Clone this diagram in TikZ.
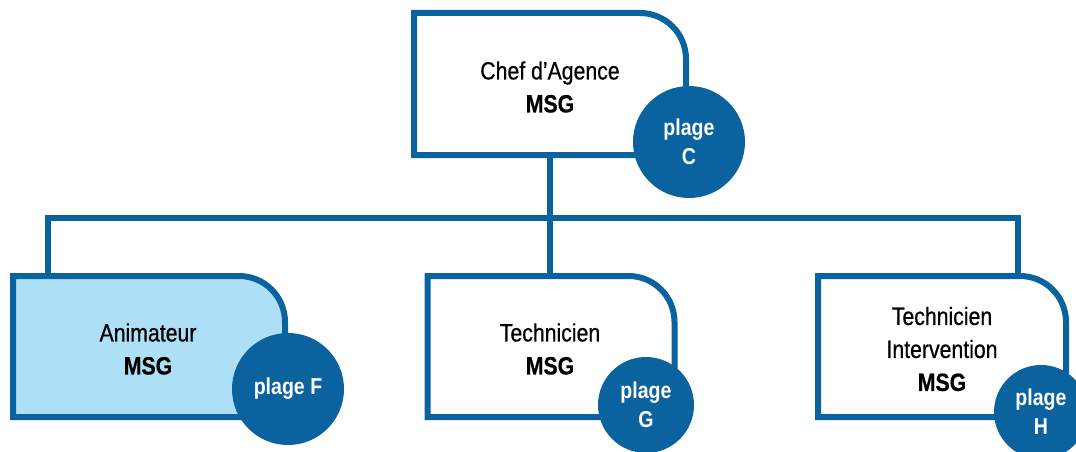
\documentclass[tikz,border=0pt]{standalone}
\usepackage{fontspec}
\setmainfont[FakeStretch=0.85]{Liberation Sans}
\newfontfamily\heavyfont[FakeStretch=0.85,FakeBold=0.6]{Liberation Sans}
\definecolor{msgblue}{RGB}{10,98,158}
\definecolor{msglight}{RGB}{173,223,247}
\tikzset{
  boxarea/.style={inner sep=0pt, outer sep=0pt},
  boxline/.style={draw=msgblue, line width=6pt, line join=miter},
  conn/.style={draw=msgblue, line width=6pt, line join=miter},
  label/.style={align=center, text=black, font=\heavyfont\fontsize{25}{33}\selectfont},
  plagecirc/.style={circle, fill=msgblue, text=white, inner sep=0pt, align=center,
    font=\bfseries\fontsize{23}{29}\selectfont},
}
\newcommand\orgbox[2]{%
  \path[boxline, fill=#2] (#1.north west) -- ([xshift=-46pt]#1.north east)
    arc[start angle=90, end angle=0, radius=46pt] -- (#1.south east) -- (#1.south west) -- cycle;}
\begin{document}
\begin{tikzpicture}[x=1pt, y=-1pt]
\useasboundingbox (0,0) rectangle (1076,452);
% box areas
\node[boxarea, minimum width=272pt, minimum height=142pt] (chef) at (550,84) {};
\node[boxarea, minimum width=272pt, minimum height=141pt] (anim) at (149,346.5) {};
\node[boxarea, minimum width=247pt, minimum height=141pt] (tech) at (551,346.5) {};
\node[boxarea, minimum width=248pt, minimum height=141pt] (inter) at (942,346.5) {};
\coordinate (busL) at (48,218);
\coordinate (busR) at (1018,218);
% connectors
\draw[conn] (busL |- anim.north) -- (busL) -- (busR) -- (busR |- inter.north);
\draw[conn] (chef.south) -- (chef.south |- tech.north);
% boxes
\orgbox{chef}{white}
\orgbox{anim}{msglight}
\orgbox{tech}{white}
\orgbox{inter}{white}
% texts
\node[label] (chefT) at (550,87) {Chef d’Agence\\\textbf{MSG}};
\node[label] (animT) at (148,349) {Animateur\\\textbf{MSG}};
\node[label] (techT) at (550,349) {Technicien\\\textbf{MSG}};
\node[label] (interT) at (942,349) {Technicien\\Intervention\\\textbf{MSG}};
% circles
\node[plagecirc, minimum size=112pt] (pC) at (689,142) {plage\\C};
\node[plagecirc, minimum size=112pt] (pF) at (288,389) {plage F};
\node[plagecirc, minimum size=96pt] (pG) at (646,405) {plage\\G};
\node[plagecirc, minimum size=94pt] (pH) at (1041,412) {plage\\H};
\end{tikzpicture}
\end{document}
